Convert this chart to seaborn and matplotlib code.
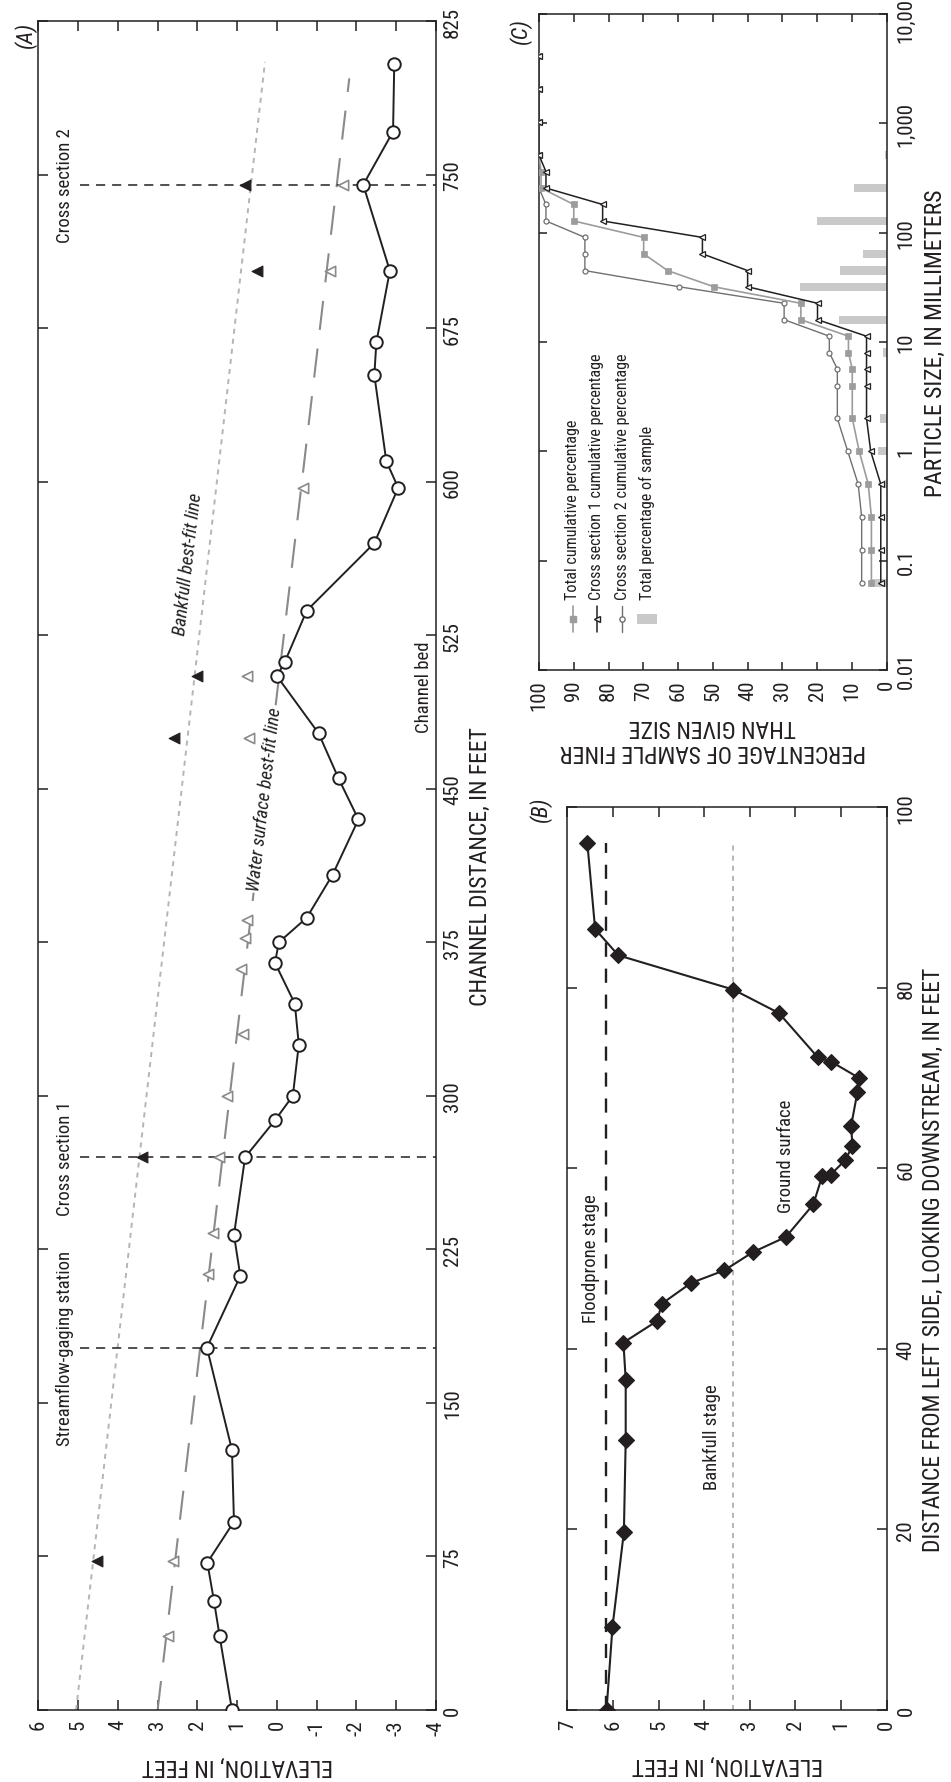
import math
import matplotlib
matplotlib.use("Agg")
import matplotlib.pyplot as plt
from matplotlib import font_manager as fm
from matplotlib.font_manager import FontProperties
from matplotlib.lines import Line2D
from matplotlib.patches import Rectangle
from matplotlib.textpath import TextPath
import seaborn as sns

# ---------------- Panel A: longitudinal profile of the reach ----------------
bed_distance = [0, 36, 53, 72, 92, 127, 177, 212, 232, 270, 288, 300, 325, 345,
                365, 375, 387, 408, 435, 455, 477, 505, 512, 537, 570, 597, 610,
                652, 668, 703, 745, 771, 804]
bed_elevation = [1.13, 1.44, 1.58, 1.75, 1.08, 1.13, 1.76, 0.92, 1.08, 0.80, 0.05,
                 -0.40, -0.55, -0.45, 0.05, -0.05, -0.75, -1.40, -2.05, -1.55,
                 -1.05, 0.00, -0.20, -0.75, -2.45, -3.05, -2.75, -2.45, -2.50,
                 -2.84, -2.17, -2.92, -2.95]
ws_distance = [36, 73, 213, 233, 270, 300, 330, 362, 377, 386, 475, 505, 597, 703, 745]
ws_elevation = [2.73, 2.61, 1.73, 1.60, 1.45, 1.25, 0.85, 0.90, 0.80, 0.75, 0.70,
                0.75, -0.65, -1.33, -1.66]
bf_distance = [73, 270, 475, 505, 703, 745]
bf_elevation = [4.53, 3.40, 2.60, 2.00, 0.50, 0.81]
bf_fit_distance = [0, 805]
bf_fit_elevation = [5.05, 0.30]
ws_fit_distance = [0, 797]
ws_fit_elevation = [3.00, -1.82]
site_distance = [177, 270, 745]
site_names = ["Streamflow-gaging station", "Cross section 1", "Cross section 2"]
a_elev_ticks = list(range(-4, 7))
a_dist_ticks = list(range(0, 826, 75))

# ---------------- Panel B: cross section ----------------
xs_distance = [0, 9.2, 19.7, 29.9, 36.6, 40.7, 43.1, 45.0, 47.3, 48.7, 50.7, 52.4,
               56.0, 59.2, 59.3, 60.9, 62.5, 64.7, 68.5, 70.0, 71.8, 72.3, 77.2,
               79.8, 83.6, 86.5, 96.0]
xs_elevation = [6.14, 6.01, 5.76, 5.72, 5.72, 5.77, 5.03, 4.93, 4.29, 3.56, 2.94,
                2.21, 1.61, 1.41, 1.23, 0.91, 0.75, 0.78, 0.64, 0.60, 1.21, 1.51,
                2.36, 3.36, 5.88, 6.39, 6.56]
floodprone_stage = 6.15
bankfull_stage = 3.37
stage_extent = [0, 96]
b_elev_ticks = list(range(0, 8))
b_dist_ticks = list(range(0, 101, 20))

# ---------------- Panel C: particle-size distribution ----------------
sieve_mm = [0.0625, 0.125, 0.25, 0.5, 1, 2, 4, 5.66, 8, 11.3, 16, 22.6, 32, 45,
            64, 90.5, 128, 181, 256, 362, 512, 1024, 2048, 4096]
total_cum = [4.4, 4.4, 4.4, 5.3, 7.9, 9.9, 9.9, 9.9, 11.0, 11.0, 24.7, 24.7, 49.7,
             63.0, 69.9, 69.9, 90.0, 90.0, 99.4, 99.4, 100, 100, 100, 100]
xs1_cum = [1.7, 1.7, 1.7, 1.7, 4.6, 5.8, 5.8, 5.8, 5.8, 5.8, 19.9, 19.9, 40.0,
           40.0, 53.0, 53.0, 81.7, 81.7, 98.0, 98.0, 100, 100, 100, 100]
xs2_cum = [7.2, 7.2, 7.2, 8.2, 11.2, 14.2, 14.2, 14.2, 16.5, 16.5, 29.5, 29.5,
           59.7, 86.8, 86.8, 86.8, 98.0, 98.0, 100, 100, 100, 100, 100, 100]
class_mm = [0.0625, 0.5, 1, 2, 8, 16, 32, 45, 64, 128, 256, 512]
class_pct = [4.4, 0.9, 2.6, 2.0, 1.1, 13.7, 25.0, 13.3, 6.9, 20.1, 9.4, 0.6]
size_ticks = [0.01, 0.1, 1, 10, 100, 1000, 10000]
size_labels = ["0.01", "0.1", "1", "10", "100", "1,000", "10,000"]
pct_ticks = list(range(0, 101, 10))
legend_labels = ["Total cumulative percentage",
                 "Cross section 1 cumulative percentage",
                 "Cross section 2 cumulative percentage",
                 "Total percentage of sample"]

# ---------------- typeface: a condensed sans ----------------
sns.set_theme(style="ticks")
names = {e.name for e in fm.fontManager.ttflist}
family = next((f for f in ["Roboto Condensed", "Archivo Narrow",
                           "Fira Sans Condensed", "Liberation Sans"]
               if f in names), "DejaVu Sans")

INK = "#231f20"
GREY_FIT = "#b5b5b5"
GREY_WS = "#8a8a8a"
GREY_TOTAL = "#9c9c9c"
GREY_XS2 = "#707070"
GREY_BAR = "#c9c9c9"
plt.rcParams.update({
    "font.family": [family, "DejaVu Sans"],
    "axes.unicode_minus": False,
    "axes.edgecolor": INK,
    "axes.linewidth": 1.1,
    "text.color": INK,
    "axes.labelcolor": INK,
    "xtick.color": INK,
    "ytick.color": INK,
})

PROP = FontProperties(family=[family])


def fit(text, width_px, cap_pt):
    """Font size (pt at 100 dpi) giving the text a set width, capped."""
    w = TextPath((0, 0), text, size=72, prop=PROP).get_extents().width
    return min(width_px * 72 * 72 / (100 * w), cap_pt)


TICK_FS = 15
LABEL_FS = fit("ELEVATION, IN FEET", 195, 17)
NOTE_FS = fit("Cross section 2", 113, 14)
LEG_FS = fit("Total cumulative percentage", 180, 12.5)
TAG_FS = 16

W, H = 951, 1783
fig = plt.figure(figsize=(W / 100, H / 100), dpi=100)


def box(left, top, right, bottom):
    return [left / W, 1 - bottom / H, (right - left) / W, (bottom - top) / H]


axA = fig.add_axes(box(38.3, 22, 436, 1711))
axB = fig.add_axes(box(567.3, 808.3, 886.7, 1711))
axC = fig.add_axes(box(539, 15, 886.7, 671))


def frame(ax, pad_bottom, pad_right, length=7):
    ax.set_facecolor("white")
    ax.tick_params(axis="both", which="major", direction="in", length=length,
                   width=1.1, top=True, bottom=True, left=True, right=True,
                   labeltop=False, labelbottom=True, labelleft=False,
                   labelright=True, labelsize=TICK_FS, labelrotation=90,
                   colors=INK)
    ax.tick_params(axis="both", which="minor", length=0)
    ax.tick_params(axis="x", pad=pad_bottom)
    ax.tick_params(axis="y", pad=pad_right)
    ax.grid(False)


# ---------------- Panel A ----------------
axA.set_xlim(6, -4)
axA.set_ylim(0, 825)
axA.set_xticks(a_elev_ticks, [str(t) for t in a_elev_ticks])
axA.set_yticks(a_dist_ticks, [str(t) for t in a_dist_ticks], va="center")
frame(axA, 6.5, 5)

sns.lineplot(x=bf_fit_elevation, y=bf_fit_distance, ax=axA, sort=False,
             estimator=None, color=GREY_FIT, lw=1.4, linestyle=(0, (2.6, 2.6)))
sns.lineplot(x=ws_fit_elevation, y=ws_fit_distance, ax=axA, sort=False,
             estimator=None, color=GREY_WS, lw=1.5, linestyle=(0, (14, 9)))
axA.hlines(site_distance, 4.95, -4, colors=INK, linestyles=(0, (6, 4.5)), lw=1.1)
sns.scatterplot(x=ws_elevation, y=ws_distance, ax=axA, marker="<", s=55,
                color="white", edgecolor=GREY_WS, linewidth=1.2, zorder=3)
sns.scatterplot(x=bf_elevation, y=bf_distance, ax=axA, marker="<", s=60,
                color=INK, edgecolor=INK, linewidth=0.8, zorder=3)
sns.lineplot(x=bed_elevation, y=bed_distance, ax=axA, sort=False, estimator=None,
             color=INK, lw=1.4, marker="o", markersize=9,
             markerfacecolor="white", markeredgecolor=INK, markeredgewidth=1.4,
             zorder=4)

for d, name in zip(site_distance, site_names):
    axA.text(5.33, d, name, rotation=90, ha="center", va="center",
             fontsize=NOTE_FS)


def along(ax, xs, ys):
    p0 = ax.transData.transform((xs[0], ys[0]))
    p1 = ax.transData.transform((xs[1], ys[1]))
    return math.degrees(math.atan2(p1[1] - p0[1], p1[0] - p0[0]))


axA.text(2.24, 560, "Bankfull best-fit line", style="italic", fontsize=NOTE_FS,
         rotation=along(axA, bf_fit_elevation, bf_fit_distance),
         rotation_mode="anchor", ha="center", va="center")
axA.text(0.31, 445, "Water surface best-fit line", style="italic",
         fontsize=NOTE_FS,
         rotation=along(axA, ws_fit_elevation, ws_fit_distance),
         rotation_mode="anchor", ha="center", va="center", zorder=2.5,
         bbox=dict(boxstyle="square,pad=0.1", fc="white", ec="none"))
axA.text(-3.7, 500, "Channel bed", rotation=90, ha="center", va="center",
         fontsize=NOTE_FS)

axA.set_xlabel("ELEVATION, IN FEET", fontsize=LABEL_FS, rotation=180,
               ha="center", va="center")
axA.xaxis.set_label_coords(0.5, -0.032)
axA.yaxis.set_label_position("right")
axA.set_ylabel("CHANNEL DISTANCE, IN FEET", fontsize=LABEL_FS, rotation=90,
               ha="center", va="center")
axA.yaxis.set_label_coords(1.113, 0.5)
axA.text(-0.0334, 1.0, "(A)", transform=axA.transAxes, rotation=90,
         ha="center", va="top", style="italic", fontsize=TAG_FS)

# ---------------- Panel B ----------------
axB.set_xlim(7, 0)
axB.set_ylim(0, 100)
axB.set_xticks(b_elev_ticks, [str(t) for t in b_elev_ticks])
axB.set_yticks(b_dist_ticks, [str(t) for t in b_dist_ticks], va="center")
frame(axB, 6.5, 7)

axB.vlines(floodprone_stage, stage_extent[0], stage_extent[1], colors=INK,
           linestyles=(0, (6, 5)), lw=1.7)
axB.vlines(bankfull_stage, stage_extent[0], stage_extent[1], colors=GREY_FIT,
           linestyles=(0, (2.6, 2.6)), lw=1.4)
sns.lineplot(x=xs_elevation, y=xs_distance, ax=axB, sort=False, estimator=None,
             color=INK, lw=1.5, marker="D", markersize=8,
             markerfacecolor=INK, markeredgecolor=INK, markeredgewidth=0.8,
             zorder=4)

axB.text(6.48, 43, "Floodprone stage", rotation=90, ha="center", va="bottom",
         fontsize=NOTE_FS)
axB.text(3.82, 30.3, "Bankfull stage", rotation=90, ha="center", va="center",
         fontsize=NOTE_FS)
axB.text(2.20, 61.5, "Ground surface", rotation=90, ha="center", va="center",
         fontsize=NOTE_FS)

axB.set_xlabel("ELEVATION, IN FEET", fontsize=LABEL_FS, rotation=180,
               ha="center", va="center")
axB.xaxis.set_label_coords(0.5, -0.0598)
axB.yaxis.set_label_position("right")
axB.set_ylabel("DISTANCE FROM LEFT SIDE, LOOKING DOWNSTREAM, IN FEET",
               fontsize=LABEL_FS, rotation=90, ha="center", va="center")
axB.yaxis.set_label_coords(1.145, 0.5)
axB.text(-0.085, 1.013, "(B)", transform=axB.transAxes, rotation=90,
         ha="center", va="top", style="italic", fontsize=TAG_FS)

# ---------------- Panel C ----------------
axC.set_yscale("log")
axC.set_xlim(100, 0)
axC.set_ylim(0.01, 10000)
axC.set_xticks(pct_ticks, [str(t) for t in pct_ticks])
axC.set_yticks(size_ticks, size_labels, va="center")
frame(axC, 6.5, 7, length=6)

half = 0.038
axC.barh([s * 10 ** -half for s in class_mm], class_pct,
         height=[s * (10 ** half - 10 ** -half) for s in class_mm],
         left=0, align="edge", color=GREY_BAR, lw=0, zorder=1)
sns.lineplot(x=xs2_cum, y=sieve_mm, ax=axC, sort=False, estimator=None,
             color=GREY_XS2, lw=1.0, marker="o", markersize=3.6,
             markerfacecolor="white", markeredgecolor=GREY_XS2,
             markeredgewidth=0.9, zorder=3)
sns.lineplot(x=total_cum, y=sieve_mm, ax=axC, sort=False, estimator=None,
             color=GREY_TOTAL, lw=1.2, marker="s", markersize=4.2,
             markerfacecolor=GREY_TOTAL, markeredgecolor=GREY_TOTAL,
             markeredgewidth=0.5, zorder=3)
sns.lineplot(x=xs1_cum, y=sieve_mm, ax=axC, sort=False, estimator=None,
             color=INK, lw=1.1, marker="<", markersize=4.2,
             markerfacecolor="white", markeredgecolor=INK,
             markeredgewidth=0.9, zorder=4)

# legend, drawn as a column of rotated entries
leg_x_px = [573, 597, 622, 647]
styles = [dict(color=GREY_TOTAL, marker="s", mfc=GREY_TOTAL, mec=GREY_TOTAL, ms=4.6, lw=1.2),
          dict(color=INK, marker="<", mfc="white", mec=INK, ms=4.6, lw=1.1),
          dict(color=GREY_XS2, marker="o", mfc="white", mec=GREY_XS2, ms=3.8, lw=1.0)]


def fx(px):
    return (px - 539) / (886.7 - 539)


def fy(py):
    return (671 - py) / (671 - 15)


for xp, st in zip(leg_x_px[:3], styles):
    axC.add_line(Line2D([fx(xp)] * 3, [fy(633), fy(620), fy(607)],
                        transform=axC.transAxes, markevery=[1], **st))
axC.add_patch(Rectangle((fx(637), fy(625)), fx(657) - fx(637), fy(615) - fy(625),
                        transform=axC.transAxes, color=GREY_BAR, lw=0))
for xp, lab in zip(leg_x_px, legend_labels):
    axC.text(fx(xp), fy(600), lab, transform=axC.transAxes, rotation=90,
             ha="center", va="bottom", fontsize=LEG_FS)

axC.set_xlabel("PERCENTAGE OF SAMPLE FINER\nTHAN GIVEN SIZE", fontsize=LABEL_FS,
               rotation=180, ha="center", va="center", linespacing=1.15)
axC.xaxis.set_label_coords(0.5, -0.1037)
axC.yaxis.set_label_position("right")
axC.set_ylabel("PARTICLE SIZE, IN MILLIMETERS", fontsize=LABEL_FS, rotation=90,
               ha="center", va="center")
axC.yaxis.set_label_coords(1.139, 0.5)
axC.text(-0.0546, 0.995, "(C)", transform=axC.transAxes, rotation=90,
         ha="center", va="top", style="italic", fontsize=TAG_FS)

fig.savefig("out.png", dpi=100, facecolor="white")
